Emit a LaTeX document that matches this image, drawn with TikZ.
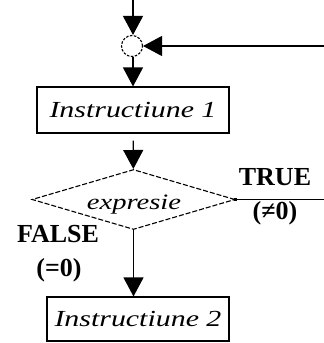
\documentclass[tikz,border=0pt]{standalone}
\usepackage{fontspec}
\setmainfont{Liberation Serif}
\newfontfamily\wideserif[FakeStretch=1.3]{Liberation Serif}
\usetikzlibrary{arrows.meta,shapes.geometric}
\tikzset{
  flow/.style={line width=1.2pt,-{Triangle[length=19pt,width=20pt]}},
  instr/.style={draw,line width=1.1pt,minimum width=192pt,minimum height=46pt,inner sep=0pt,
    font=\wideserif\itshape\fontsize{23}{25}\selectfont},
  test/.style={diamond,draw,line width=1.1pt,dash pattern=on 5pt off 2pt,aspect=3.4,
    minimum width=203pt,minimum height=60pt,inner sep=0pt},
  answer/.style={inner sep=0pt,font=\bfseries\fontsize{26}{28}\selectfont}
}
\begin{document}
\begin{tikzpicture}[x=1pt,y=-1pt]
  \useasboundingbox (0,0) rectangle (324,343);
  \coordinate (top) at (133,0);
  \node[circle,draw,dash pattern=on 2.5pt off 1.5pt,line width=1.1pt,minimum size=21pt,inner sep=0pt] (join) at (132,46) {};
  \coordinate (back) at (324,46);
  \node[instr] (instr1) at (133,110) {Instructiune 1};
  \node[test] (cond) at (133.5,199.5) {};
  \node[font=\wideserif\itshape\fontsize{22}{24}\selectfont,inner sep=0pt] (condtext) at (134,205) {expresie};
  \coordinate (trueend) at (324,199.5);
  \node[instr,minimum width=182pt,minimum height=44pt] (instr2) at (138,319) {Instructiune 2};
  % labels of the two branches
  \node[answer] (truelbl) at (275,177) {TRUE};
  \node[answer] (truecond) at (275,213) {(≠0)};
  \node[answer] (falselbl) at (58,234) {FALSE};
  \node[answer] (falsecond) at (59,270) {(=0)};
  % connectors
  \draw[flow] (top) -- (top |- join.north);
  \draw[flow] (back) -- (join);
  \draw[flow] (top |- join.south) -- (top |- instr1.north);
  \draw[flow,shorten <=7pt] (instr1) -- (cond);
  \draw[line width=1.2pt] (cond.east) -- (trueend);
  \fill (cond.east) +(-1.8,-1.8) rectangle +(1.8,1.8);
  \draw[flow] (cond.south) -- (cond.south |- instr2.north);
\end{tikzpicture}
\end{document}
